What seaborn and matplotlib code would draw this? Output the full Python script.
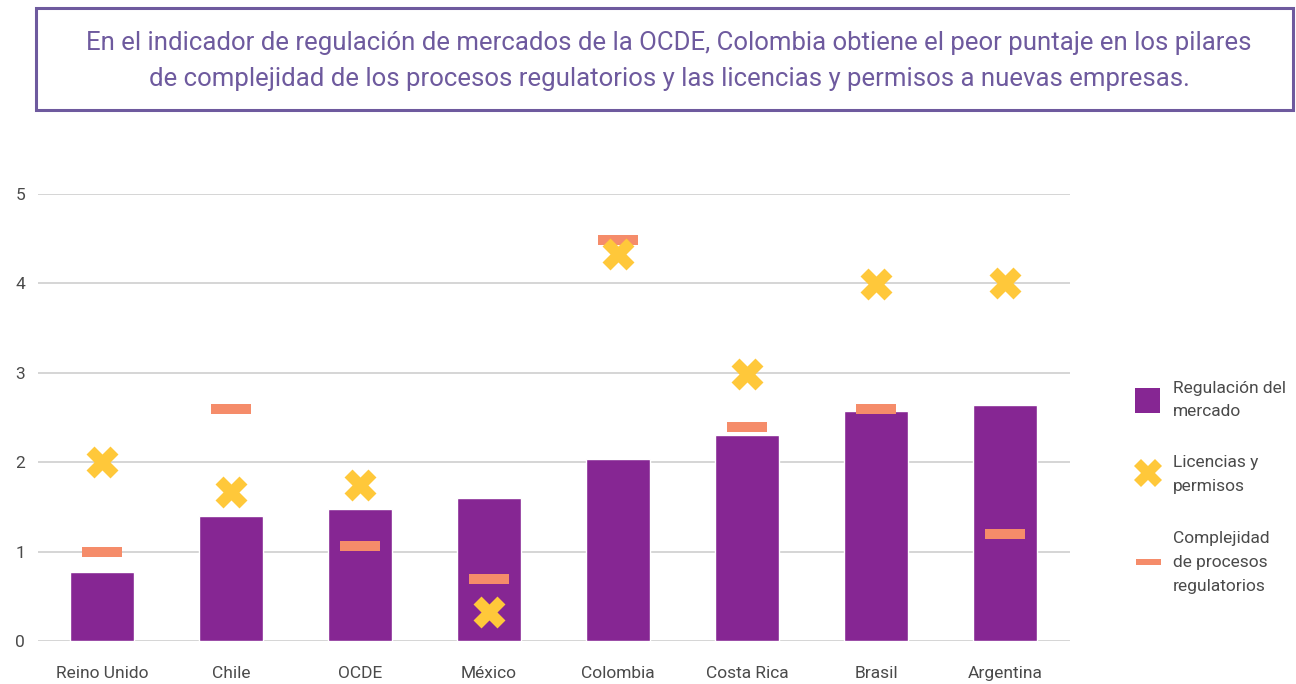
import numpy as np
import pandas as pd
import seaborn as sns
import matplotlib.pyplot as plt
from matplotlib.path import Path
from matplotlib.patches import Rectangle
from matplotlib.lines import Line2D

paises = ['Reino Unido', 'Chile', 'OCDE', 'México', 'Colombia', 'Costa Rica', 'Brasil', 'Argentina']
regulacion = [0.77, 1.40, 1.48, 1.60, 2.04, 2.30, 2.57, 2.64]
licencias = [2.00, 1.67, 1.75, 0.32, 4.33, 2.99, 3.99, 4.00]
complejidad = [1.00, 2.60, 1.06, 0.69, 4.49, 2.39, 2.60, 1.20]

titulo = ('En el indicador de regulación de mercados de la OCDE, Colombia obtiene el peor puntaje en los pilares\n'
          'de complejidad de los procesos regulatorios y las licencias y permisos a nuevas empresas.')
leyenda = ['Regulación del\nmercado', 'Licencias y\npermisos', 'Complejidad\nde procesos\nregulatorios']

morado = '#862693'
amarillo = '#FFC83A'
salmon = '#F58C6A'
borde = '#6E5A9E'
gris = '#4a4a4a'

df = pd.DataFrame({'pais': paises, 'regulacion': regulacion,
                   'licencias': licencias, 'complejidad': complejidad})

sns.set_theme(style='white')
plt.rcParams['font.family'] = ['Roboto', 'DejaVu Sans']

W, H = 1296, 684
fig = plt.figure(figsize=(W / 100, H / 100), dpi=100)
ax = fig.add_axes([37.5 / W, 43 / H, 1032 / W, 447 / H])

sns.barplot(data=df, x='pais', y='regulacion', color=morado, width=0.5,
            saturation=1, ax=ax, zorder=2)

# dash marker as a flat rectangle
dash = Path([(-1, -0.22), (1, -0.22), (1, 0.22), (-1, 0.22), (-1, -0.22)],
            [Path.MOVETO, Path.LINETO, Path.LINETO, Path.LINETO, Path.CLOSEPOLY])
sns.scatterplot(data=df, x='pais', y='complejidad', marker=dash, s=29.5 ** 2,
                color=salmon, linewidth=0, ax=ax, zorder=3)
sns.scatterplot(data=df, x='pais', y='licencias', marker='X', s=23 ** 2,
                color=amarillo, linewidth=0, ax=ax, zorder=4)

ax.set_xlim(-0.5, len(paises) - 0.5)
ax.set_ylim(0, 5)
ax.set_yticks([0, 1, 2, 3, 4, 5])
ax.grid(axis='y', color='#d2d2d2', linewidth=1.3, zorder=0)
ax.set_axisbelow(True)
for s in ax.spines.values():
    s.set_visible(False)
ax.set_xlabel('')
ax.set_ylabel('')
ax.tick_params(axis='x', length=0, pad=18, labelsize=12.5, labelcolor=gris)
ax.tick_params(axis='y', length=0, pad=9, labelsize=12.5, labelcolor=gris)

# legend, placed by hand in pixel positions
def fx(px):
    return px / W

def fy(py):
    return 1 - py / H

fig.patches.append(Rectangle((fx(1135), fy(413)), 25 / W, 25 / H,
                             transform=fig.transFigure, facecolor=morado, edgecolor='none'))
fig.lines.append(Line2D([fx(1147.5)], [fy(473)], marker='X', markersize=20,
                        markerfacecolor=amarillo, markeredgewidth=0, linestyle='none',
                        transform=fig.transFigure))
fig.lines.append(Line2D([fx(1147.5)], [fy(562)], marker=dash, markersize=18,
                        markerfacecolor=salmon, markeredgewidth=0, linestyle='none',
                        transform=fig.transFigure))
for txt, ypx in zip(leyenda, [400, 475, 562]):
    fig.text(fx(1173), fy(ypx), txt, ha='left', va='center', fontsize=12.5,
             color=gris, linespacing=1.75)

# title box
fig.patches.append(Rectangle((36 / W, fy(110)), 1257 / W, 102 / H,
                             transform=fig.transFigure, fill=False,
                             edgecolor=borde, linewidth=2.2))
fig.text(669 / W, fy(61), titulo, ha='center', va='center',
         fontsize=18.5, color=borde, linespacing=1.6)

fig.savefig('out.png', dpi=100)
